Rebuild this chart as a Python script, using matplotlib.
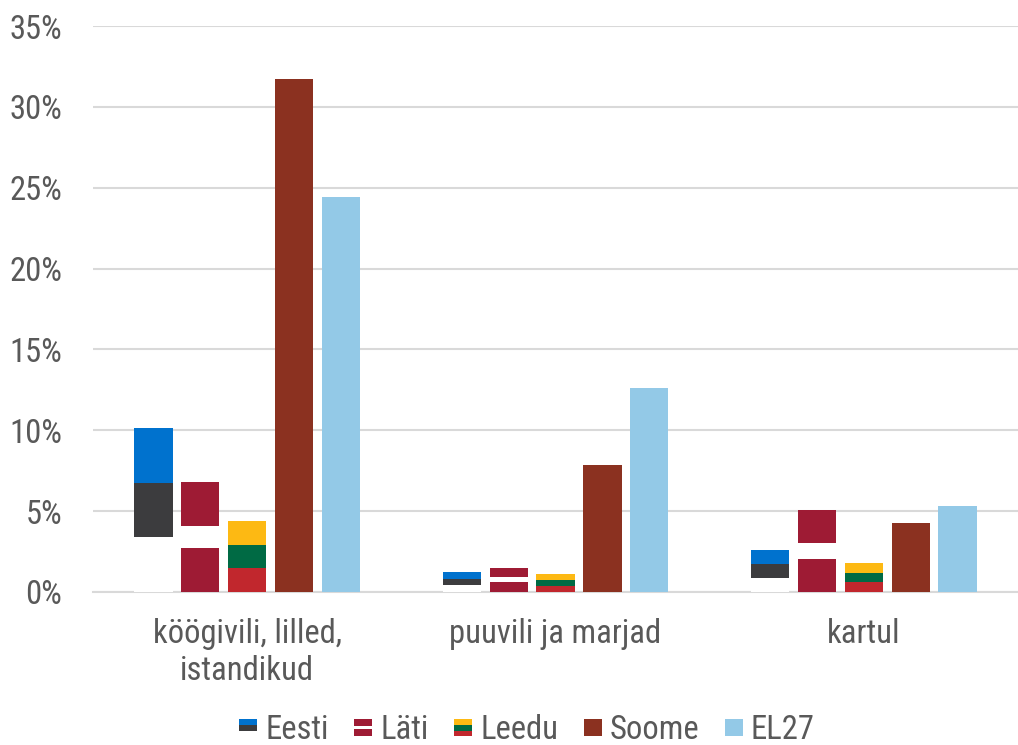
import matplotlib.pyplot as plt
import numpy as np
from matplotlib.patches import Rectangle
from matplotlib.legend_handler import HandlerBase

plt.rcParams['font.family'] = ['Roboto Condensed', 'Liberation Sans Narrow', 'Roboto', 'DejaVu Sans']

categories = ['köögivili, lilled,\nistandikud', 'puuvili ja marjad', 'kartul']
series = ['Eesti', 'Läti', 'Leedu', 'Soome', 'EL27']
eesti = [10.15, 1.25, 2.6]
lati = [6.8, 1.5, 5.1]
leedu = [4.4, 1.1, 1.8]
soome = [31.7, 7.85, 4.25]
el27 = [24.4, 12.6, 5.3]

# flag stripes, top to bottom: (colour, share of height)
flags = {
    'Eesti': [('#0072CE', 1), ('#3C3C3E', 1), ('#FFFFFF', 1)],
    'Läti': [('#9E1B34', 2), ('#FFFFFF', 1), ('#9E1B34', 2)],
    'Leedu': [('#FDB913', 1), ('#006A44', 1), ('#C1272D', 1)],
    'Soome': [('#8B3120', 1)],
    'EL27': [('#93C9E7', 1)],
}
values = {'Eesti': eesti, 'Läti': lati, 'Leedu': leedu, 'Soome': soome, 'EL27': el27}

fig, ax = plt.subplots(figsize=(10.18, 7.45), dpi=100)
fig.subplots_adjust(left=0.0914, right=1.0, top=0.965, bottom=0.2054)

x = np.arange(len(categories))
w = 0.124
step = 0.152

for i, name in enumerate(series):
    pos = x + (i - 2) * step
    stripes = flags[name]
    total = sum(s for _, s in stripes)
    for xi, v in zip(pos, values[name]):
        top = v
        for col, share in stripes:
            h = v * share / total
            ax.bar(xi, h, width=w, bottom=top - h, color=col, linewidth=0, zorder=3)
            top -= h


class FlagHandler(HandlerBase):
    def create_artists(self, legend, orig_handle, xdescent, ydescent, width, height, fontsize, trans):
        stripes = flags[orig_handle]
        total = sum(s for _, s in stripes)
        size = min(width, height)
        x0 = -xdescent + (width - size) / 2
        y0 = -ydescent + (height - size) / 2
        arts = []
        top = y0 + size
        for col, share in stripes:
            h = size * share / total
            arts.append(Rectangle((x0, top - h), size, h, facecolor=col,
                                  edgecolor='none', transform=trans))
            top -= h
        return arts


ax.set_ylim(0, 35)
ax.set_xlim(-0.5, 2.5)
ax.set_yticks(np.arange(0, 36, 5))
ax.set_yticklabels([f'{t}%' for t in range(0, 36, 5)])
ax.set_xticks(x)
ax.set_xticklabels(categories)
ax.tick_params(axis='both', length=0, labelsize=23.5, colors='#595959')
ax.tick_params(axis='x', pad=19)
ax.tick_params(axis='y', pad=22)
ax.grid(axis='y', color='#d9d9d9', linewidth=1.5, zorder=0)
for s in ['top', 'right', 'left']:
    ax.spines[s].set_visible(False)
ax.spines['bottom'].set_color('#d9d9d9')
ax.spines['bottom'].set_linewidth(1.5)

ax.legend(series, series, handler_map={s: FlagHandler() for s in series},
          loc='center', bbox_to_anchor=(0.469, -0.244), ncol=5, frameon=False,
          fontsize=23.5, handlelength=0.55, handleheight=0.55, handletextpad=0.25,
          columnspacing=0.78, labelcolor='#595959')

fig.savefig('out.png', dpi=100)
